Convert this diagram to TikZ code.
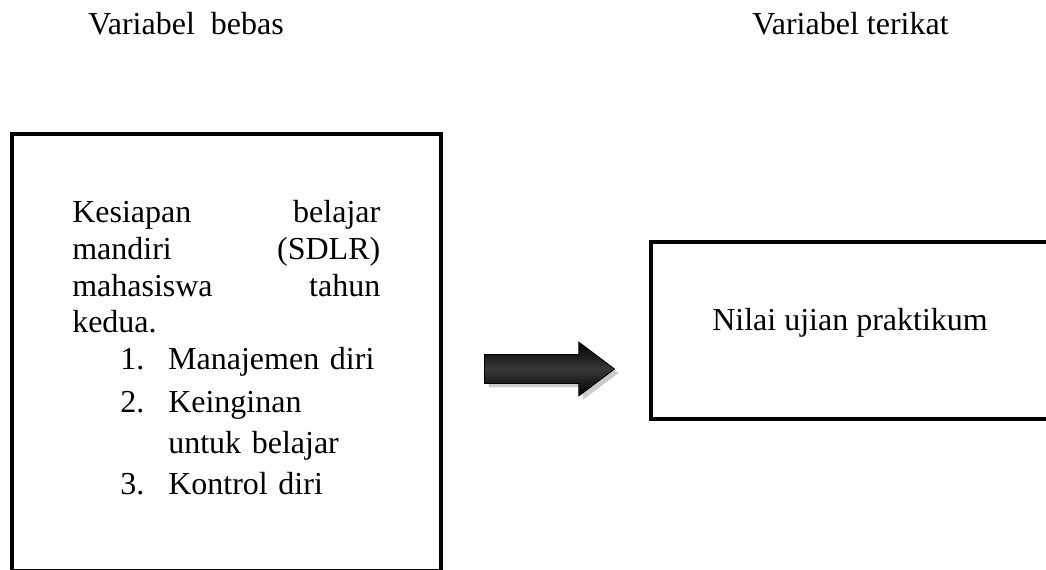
\documentclass[tikz,border=0pt]{standalone}
\usepackage{fontspec}
\setmainfont{Liberation Serif}
\usepackage{tikz}
\usetikzlibrary{positioning,shapes.arrows,shadows}

\begin{document}
\begin{tikzpicture}[
 x=0.75pt, y=-0.75pt,
 font=\fontsize{24}{27.5}\selectfont,
 box/.style={rectangle, draw=black, line width=3pt, inner sep=0pt},
 lbl/.style={inner sep=0pt, anchor=base west, text=black},
 bigarrow/.style={single arrow, draw=black, line width=0.6pt, inner sep=0pt,
 text height=10.5pt, text depth=10.5pt, minimum height=97.5pt,
 single arrow head extend=9.4pt, single arrow tip angle=74, single arrow head indent=0pt,
 top color=black, bottom color=black, middle color=black!78,
 drop shadow={shadow xshift=3pt, shadow yshift=-3pt, opacity=0.45, fill=black!45}},
]
\useasboundingbox (0,0) rectangle (1046,570);
\begin{scope}
\clip (0,0) rectangle (1046,570);
\node[box, minimum width=322.1pt, minimum height=327.75pt] (bebas) at (226.75,352.5) {};
\node[box, minimum width=306.4pt, minimum height=133.1pt] (terikat) at (855.75,330.75) {};
\end{scope}
\node[lbl] (jbebas) at (88,35) {Variabel~ bebas};
\node[lbl] (jterikat) at (752,35) {Variabel terikat};
\node[lbl, text width=231pt, align=left] (isibebas) at (72,223)
 {Kesiapan\hfill belajar\\
 mandiri\hfill (SDLR)\\
 mahasiswa\hfill tahun\\
 kedua.\\
 \hspace*{36pt}\makebox[36pt][l]{1.}Manajemen diri\\[4.5pt]
 \hspace*{36pt}\makebox[36pt][l]{2.}Keinginan\\[3.5pt]
 \hspace*{72pt}untuk belajar\\[3.5pt]
 \hspace*{36pt}\makebox[36pt][l]{3.}Kontrol diri};
\node[inner sep=0pt, anchor=base] (isiterikat) at (850,330) {Nilai ujian praktikum};
% panah pengaruh
\node[bigarrow] (panah) at (540,369) {};
\end{tikzpicture}
\end{document}
